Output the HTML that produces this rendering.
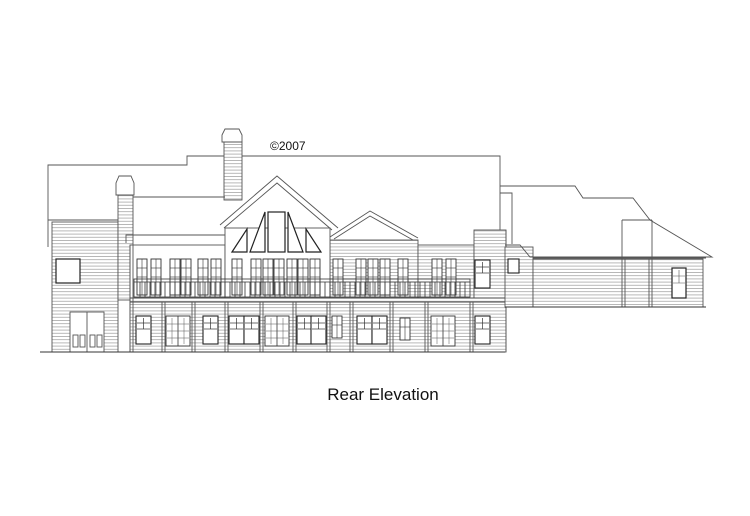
<!DOCTYPE html>
<html><head><meta charset="utf-8"><style>
html,body{margin:0;padding:0;background:#fff;width:750px;height:516px;overflow:hidden}
svg{display:block}
</style></head><body>
<svg width="750" height="516" viewBox="0 0 750 516" xmlns="http://www.w3.org/2000/svg">
<defs>
<pattern id="sd" width="4" height="3.2" patternUnits="userSpaceOnUse"><rect width="4" height="3.2" fill="#fff"/><line x1="0" y1="0.5" x2="4" y2="0.5" stroke="#9a9a9a" stroke-width="0.7"/></pattern>
<g id="wu"><rect x="0" y="0" width="10" height="36" fill="#fff" stroke="#333" stroke-width="0.9"/><line x1="5" y1="0" x2="5" y2="36" stroke="#333" stroke-width="0.6"/><line x1="0" y1="9" x2="10" y2="9" stroke="#333" stroke-width="0.6"/><line x1="0" y1="18" x2="10" y2="18" stroke="#333" stroke-width="0.6"/></g>
<g id="wl"><rect x="0" y="0" width="10" height="22" fill="#fff" stroke="#333" stroke-width="0.9"/><line x1="5" y1="0" x2="5" y2="22" stroke="#333" stroke-width="0.6"/><line x1="0" y1="9" x2="10" y2="9" stroke="#333" stroke-width="0.6"/></g>
<g id="ws"><rect x="0" y="0" width="15" height="28" fill="#fff" stroke="#222" stroke-width="1.1"/><line x1="7.5" y1="2" x2="7.5" y2="13" stroke="#333" stroke-width="0.7"/><line x1="1" y1="7" x2="14" y2="7" stroke="#333" stroke-width="0.7"/><line x1="1" y1="13" x2="14" y2="13" stroke="#333" stroke-width="0.7"/></g>
<g id="wf"><rect x="0" y="0" width="24" height="30" fill="#fff" stroke="#333" stroke-width="0.9"/><line x1="12" y1="0" x2="12" y2="30" stroke="#333" stroke-width="0.8"/><line x1="6" y1="2" x2="6" y2="28" stroke="#555" stroke-width="0.5"/><line x1="18" y1="2" x2="18" y2="28" stroke="#555" stroke-width="0.5"/><line x1="1" y1="8" x2="23" y2="8" stroke="#555" stroke-width="0.5"/><line x1="1" y1="15" x2="23" y2="15" stroke="#555" stroke-width="0.5"/><line x1="1" y1="22" x2="23" y2="22" stroke="#555" stroke-width="0.5"/></g>
</defs>
<g fill="none" stroke="#555" stroke-width="0.9">
<path d="M48 247 V165 H187 V156 H500 V230" />
<path d="M48 220 H122"/>
<rect x="52" y="222" width="66" height="130" fill="url(#sd)"/>
<rect x="56" y="259" width="24" height="24" fill="#fff" stroke="#222" stroke-width="1.2"/>
<rect x="70" y="312" width="34" height="40" fill="#fff"/>
<line x1="87" y1="312" x2="87" y2="352"/>
<rect x="73" y="335" width="5" height="12"/><rect x="80" y="335" width="5" height="12"/><rect x="90" y="335" width="5" height="12"/><rect x="97" y="335" width="5" height="12"/>
<rect x="118" y="195" width="15" height="105" fill="url(#sd)"/>
<path d="M116 195 V183 L119 176 H131 L134 183 V195 Z" fill="#fff"/>
<rect x="224" y="142" width="18" height="58" fill="url(#sd)"/>
<path d="M222 142 V135 L225 129 H239 L242 135 V142 Z" fill="#fff"/>
<path d="M133 197 H225"/>
<path d="M126 243 V235 H225"/>
<rect x="130" y="298" width="376" height="54" fill="url(#sd)"/>
<rect x="330" y="240" width="88" height="58" fill="url(#sd)"/>
<rect x="418" y="245" width="56" height="53" fill="url(#sd)"/>
<rect x="474" y="230" width="32" height="68" fill="url(#sd)"/>
<rect x="130" y="245" width="95" height="53" fill="#fff"/>
<rect x="225" y="228" width="105" height="70" fill="#fff"/>
<path d="M220 225 L277 176 L338 228 M224 228 L277 183 L332 230" fill="none"/>
<path d="M330 237 L370 211 L418 238 M334 239 L370 216 L413 240" fill="none"/>
<g stroke="#222" stroke-width="1.2" fill="#fff">
<path d="M232 252 L247 229 V252 Z"/><path d="M250 252 L265 212 V252 Z"/><rect x="268" y="212" width="17" height="40"/><path d="M288 212 L303 252 H288 Z"/><path d="M306 229 L321 252 H306 Z"/>
</g>
<g>
<use href="#wu" x="137" y="259"/><use href="#wu" x="151" y="259"/><use href="#wu" x="170" y="259"/><use href="#wu" x="181" y="259"/><use href="#wu" x="198" y="259"/><use href="#wu" x="211" y="259"/><use href="#wu" x="232" y="259"/><use href="#wu" x="251" y="259"/><use href="#wu" x="263" y="259"/><use href="#wu" x="274" y="259"/><use href="#wu" x="287" y="259"/><use href="#wu" x="298" y="259"/><use href="#wu" x="310" y="259"/><use href="#wu" x="333" y="259"/><use href="#wu" x="356" y="259"/><use href="#wu" x="368" y="259"/><use href="#wu" x="380" y="259"/><use href="#wu" x="398" y="259"/><use href="#wu" x="432" y="259"/><use href="#wu" x="446" y="259"/>
</g>
<g stroke="#333" stroke-width="0.8">
<rect x="134" y="279" width="336" height="18" fill="none"/>
<path d="M134 282 H470"/>
<path d="M140 282V297M145 282V297M150 282V297M155 282V297M160 282V297M165 282V297M170 282V297M175 282V297M180 282V297M185 282V297M190 282V297M195 282V297M200 282V297M205 282V297M210 282V297M215 282V297M220 282V297M225 282V297M230 282V297M235 282V297M240 282V297M245 282V297M250 282V297M255 282V297M260 282V297M265 282V297M270 282V297M275 282V297M280 282V297M285 282V297M290 282V297M295 282V297M300 282V297M305 282V297M310 282V297M315 282V297M320 282V297M325 282V297M330 282V297M335 282V297M340 282V297M345 282V297M350 282V297M355 282V297M360 282V297M365 282V297M370 282V297M375 282V297M380 282V297M385 282V297M390 282V297M395 282V297M400 282V297M405 282V297M410 282V297M415 282V297M420 282V297M425 282V297M430 282V297M435 282V297M440 282V297M445 282V297M450 282V297M455 282V297M460 282V297M465 282V297"/>
</g>
<path d="M130 298 H506 M130 302 H506" stroke="#444"/>
<path d="M130 245V352M133 245V352M162 302V352M165 302V352M192 302V352M195 302V352M225 302V352M228 302V352M260 302V352M263 302V352M293 302V352M296 302V352M327 302V352M330 302V352M350 302V352M353 302V352M390 302V352M393 302V352M425 302V352M428 302V352M470 302V352M473 302V352M506 230V352"/>
<use href="#ws" x="136" y="316"/><use href="#wf" x="166" y="316"/><use href="#ws" x="203" y="316"/>
<use href="#ws" x="229" y="316"/><use href="#ws" x="244" y="316"/><use href="#wf" x="265" y="316"/>
<use href="#ws" x="297" y="316"/><use href="#ws" x="311" y="316"/><use href="#wl" x="332" y="316"/>
<use href="#ws" x="357" y="316"/><use href="#ws" x="372" y="316"/><use href="#wl" x="400" y="318"/>
<use href="#wf" x="431" y="316"/><use href="#ws" x="475" y="316"/>
<use href="#ws" x="475" y="260"/>
<path d="M40 352 H505" stroke="#333"/>
<rect x="505" y="247" width="28" height="60" fill="url(#sd)"/>
<path d="M500 186 H575 L583 198 H633 L650 220 L712 257 H530 L520 245 H505"/>
<path d="M500 193 H512 V244"/>
<rect x="533" y="259" width="170" height="48" fill="url(#sd)"/>
<path d="M533 258 H706"/>
<path d="M622 220 V307 M652 220 V307 M625 259V307 M649 259V307"/>
<path d="M622 220 H652"/>
<rect x="508" y="259" width="11" height="14" fill="#fff" stroke="#222" stroke-width="1.1"/>
<rect x="672" y="268" width="14" height="30" fill="#fff" stroke="#222" stroke-width="1.2"/>
<path d="M679 270V283M673 276H685M673 283H685" stroke-width="0.6"/>
<path d="M505 307 H706" stroke="#333"/>
</g>
<text x="270" y="150" font-family="Liberation Sans, sans-serif" font-size="12" fill="#111">©2007</text>
<text x="383" y="400" text-anchor="middle" font-family="Liberation Sans, sans-serif" font-size="17" fill="#111">Rear Elevation</text>
</svg>
</body></html>
